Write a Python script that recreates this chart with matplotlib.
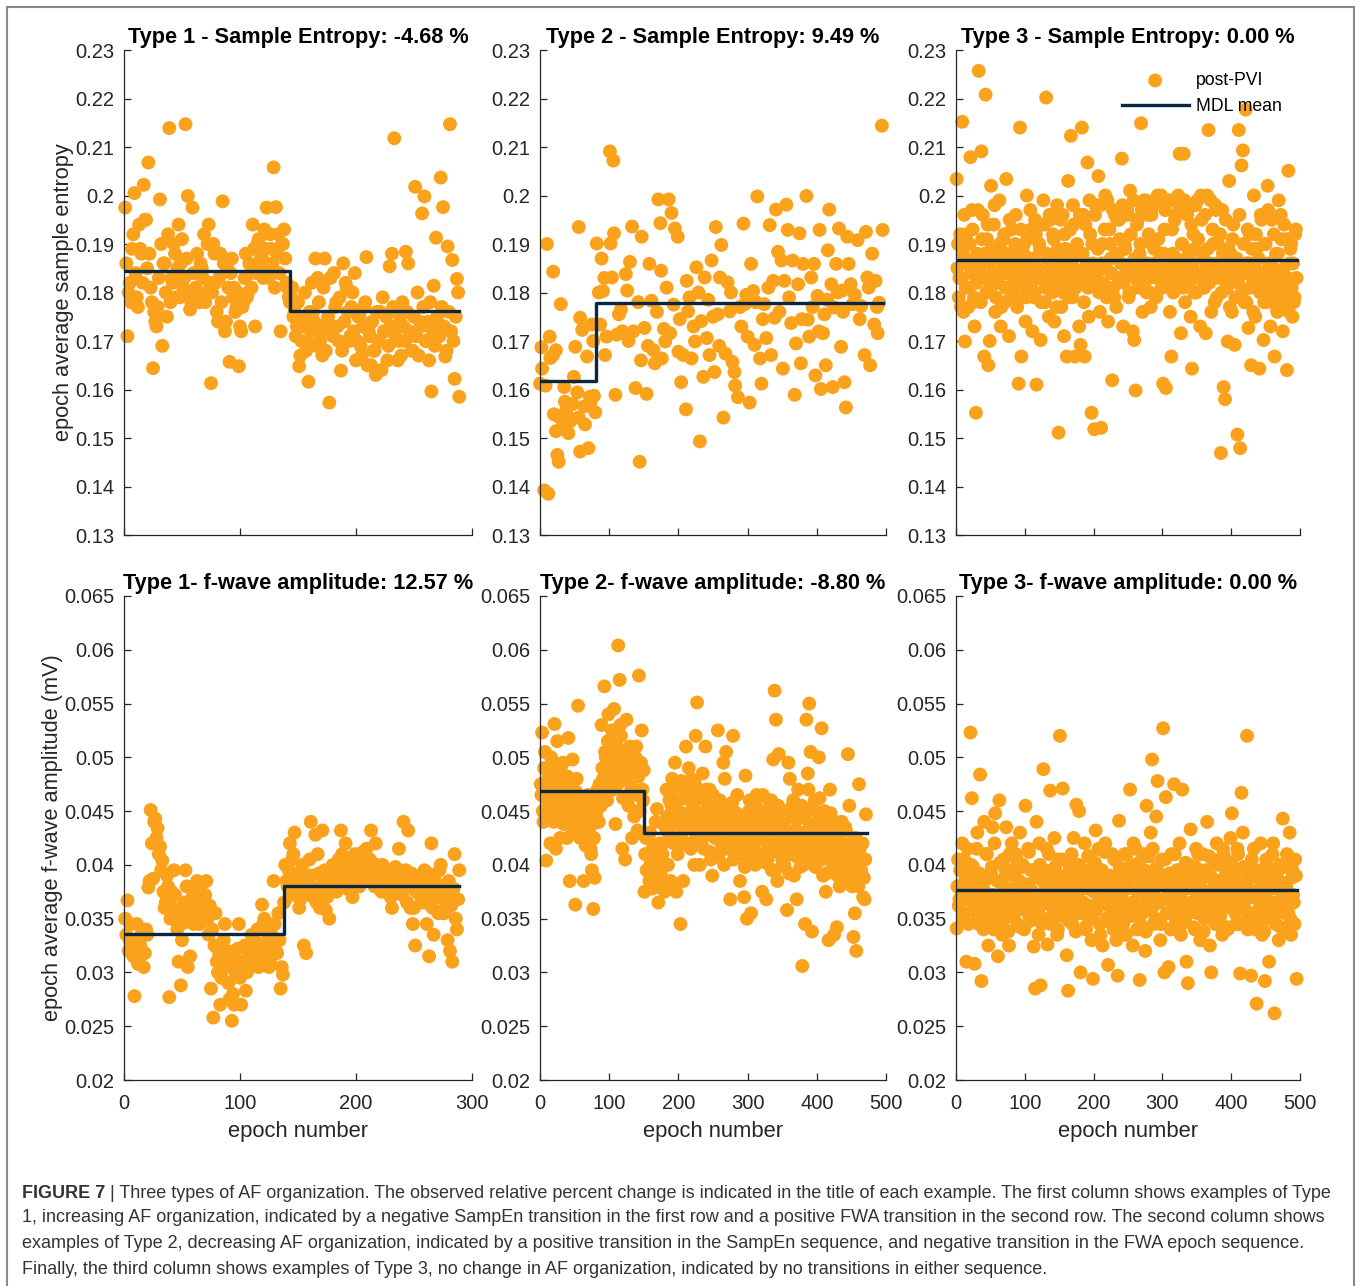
import matplotlib
matplotlib.use('Agg')
import matplotlib.pyplot as plt
from matplotlib.patches import Rectangle
from matplotlib.ticker import FuncFormatter

plt.rcParams['font.family'] = ['Liberation Sans', 'DejaVu Sans']

# ---------------- data ----------------
# Type 1 - sample entropy, odd epochs
sampen1_epoch = list(range(1, 290, 2))
sampen1_value = [
    0.1975, 0.171, 0.182, 0.189, 0.2005, 0.179, 0.194, 0.188, 0.2022, 0.195,
    0.2068, 0.181, 0.1644, 0.174, 0.177, 0.1992, 0.169, 0.186, 0.175, 0.2139,
    0.183, 0.190, 0.179, 0.194, 0.186, 0.181, 0.2147, 0.1999, 0.1765, 0.1975,
    0.180, 0.188, 0.178, 0.185, 0.192, 0.180, 0.194, 0.1613, 0.190, 0.182,
    0.174, 0.188, 0.1988, 0.172, 0.185, 0.1657, 0.187, 0.181, 0.177, 0.1648,
    0.172, 0.178, 0.188, 0.180, 0.184, 0.194, 0.173, 0.190, 0.186, 0.187,
    0.193, 0.1975, 0.183, 0.189, 0.2058, 0.1976, 0.192, 0.172, 0.190, 0.187,
    0.181, 0.178,
    0.181, 0.176, 0.173, 0.1648, 0.170, 0.175, 0.168, 0.1616, 0.172, 0.176,
    0.187, 0.183, 0.170, 0.167, 0.187, 0.174, 0.1573, 0.172, 0.184, 0.178,
    0.170, 0.1639, 0.186, 0.182, 0.176, 0.171, 0.180, 0.184, 0.170, 0.175,
    0.167, 0.177, 0.1873, 0.172, 0.165, 0.168, 0.163, 0.170, 0.176, 0.179,
    0.172, 0.166, 0.1854, 0.188, 0.2118, 0.176, 0.170, 0.167, 0.173, 0.1884,
    0.186, 0.171, 0.168, 0.2018, 0.180, 0.174, 0.1963, 0.1998, 0.170, 0.166,
    0.1596, 0.1814, 0.1913, 0.173, 0.2037, 0.1976, 0.1668, 0.1895, 0.2147, 0.1867,
    0.1622, 0.1828, 0.1585,
]
# Type 1 - sample entropy, even epochs (dense core of the cloud)
sampen1_epoch_b = list(range(2, 289, 2))
sampen1_value_b = [
    0.186, 0.180, 0.178, 0.192, 0.184, 0.177, 0.189, 0.182, 0.195, 0.185,
    0.188, 0.178, 0.176, 0.173, 0.183, 0.190, 0.186, 0.180, 0.192, 0.178,
    0.182, 0.188, 0.185, 0.179, 0.191, 0.183, 0.187, 0.180, 0.178, 0.184,
    0.181, 0.179, 0.186, 0.183, 0.178, 0.190, 0.182, 0.180, 0.188, 0.176,
    0.183, 0.178, 0.186, 0.174, 0.181, 0.184, 0.179, 0.176, 0.180, 0.173,
    0.177, 0.183, 0.179, 0.186, 0.181, 0.189, 0.184, 0.191, 0.187, 0.183,
    0.189, 0.185, 0.192, 0.186, 0.181, 0.188, 0.184, 0.190, 0.193, 0.182,
    0.179,
    0.179, 0.175, 0.171, 0.178, 0.167, 0.173, 0.180, 0.170, 0.176, 0.182,
    0.174, 0.169, 0.178, 0.172, 0.181, 0.168, 0.175, 0.183, 0.171, 0.177,
    0.173, 0.179, 0.168, 0.174, 0.181, 0.170, 0.177, 0.172, 0.166, 0.175,
    0.169, 0.173, 0.178, 0.165, 0.171, 0.174, 0.168, 0.176, 0.170, 0.164,
    0.172, 0.175, 0.169, 0.173, 0.177, 0.171, 0.166, 0.174, 0.178, 0.170,
    0.176, 0.172, 0.168, 0.175, 0.171, 0.167, 0.173, 0.177, 0.170, 0.174,
    0.178, 0.172, 0.169, 0.175, 0.171, 0.177, 0.173, 0.168, 0.176, 0.172,
    0.170, 0.175, 0.180,
]
sampen1_mdl_x = [1, 143, 289]
sampen1_mdl_y = [0.1845, 0.1761, 0.1761]

# Type 2 - sample entropy
sampen2_epoch = [
    0, 2, 3, 6, 8, 10, 12, 14, 15, 19, 19, 20, 23, 23, 25, 26, 27, 30, 33, 35,
    36, 38, 41, 42, 44, 47, 49, 51, 54, 56, 56, 58, 58, 61, 64, 65, 68, 70, 72, 73,
    75, 77, 78, 80,
    82, 85, 87, 89, 91, 94, 96, 101, 102, 104, 106, 107, 109, 111, 114, 119, 124, 126, 130, 133,
    135, 138, 144, 146, 147, 151, 154, 158, 161, 164, 166, 171, 174, 175, 176, 181, 183, 186, 188, 190,
    195, 199, 200, 204, 207, 211, 212, 214, 219, 224, 226, 231, 233, 236, 238, 241, 245, 248, 252, 254,
    257, 260, 262, 265, 268, 271, 274, 278, 281, 282, 286, 291, 294, 296, 300, 303, 305, 308, 310, 314,
    318, 320, 324, 327, 332, 334, 337, 339, 341, 344, 349, 351, 353, 356, 358, 363, 365, 368, 370, 373,
    375, 377, 380, 385, 387, 389, 392, 396, 398, 401, 404, 406, 409, 411, 413, 416, 418, 421, 423, 425,
    428, 432, 435, 437, 440, 442, 444, 446, 449, 452, 459, 464, 469, 471, 473, 477, 480, 483, 485, 488,
    490, 494, 495,
    93, 117, 128, 142, 156, 169, 179, 193, 202, 216, 222, 229, 243, 250, 259, 276, 289, 298, 312, 322,
    330, 346, 360, 378, 394, 403, 415, 430, 438, 455, 462, 475, 487,
]
sampen2_value = [
    0.1612, 0.1687, 0.1643, 0.1392, 0.1608, 0.1900, 0.1385, 0.1709, 0.1665, 0.1843,
    0.1671, 0.1549, 0.1681, 0.1514, 0.1465, 0.1545, 0.1451, 0.1776, 0.1530, 0.1605,
    0.1575, 0.1559, 0.1510, 0.1542, 0.1535, 0.1570, 0.1626, 0.1688, 0.1594, 0.1935,
    0.1542, 0.1748, 0.1472, 0.1723, 0.1565, 0.1528, 0.1668, 0.1479, 0.1585, 0.1573,
    0.1734, 0.1700, 0.1587, 0.1553,
    0.1901, 0.1800, 0.1734, 0.1870, 0.1803, 0.1671, 0.1709, 0.2091, 0.1901, 0.1831,
    0.2072, 0.1922, 0.1589, 0.1713, 0.1755, 0.1720, 0.1838, 0.1804, 0.1863, 0.1936,
    0.1720, 0.1603, 0.1451, 0.1660, 0.1915, 0.1727, 0.1591, 0.1859, 0.1783, 0.1681,
    0.1654, 0.1992, 0.1943, 0.1845, 0.1664, 0.1699, 0.1810, 0.1992, 0.1716, 0.1964,
    0.1932, 0.1915, 0.1678, 0.1615, 0.1671, 0.1559, 0.1824, 0.1761, 0.1664, 0.1699,
    0.1852, 0.1493, 0.1741, 0.1626, 0.1831, 0.1706, 0.1671, 0.1866, 0.1636, 0.1935,
    0.1755, 0.1831, 0.1898, 0.1542, 0.1674, 0.1821, 0.1761, 0.1657, 0.1636, 0.1608,
    0.1584, 0.1730, 0.1942, 0.1776, 0.1709, 0.1573, 0.1859, 0.1803, 0.1692, 0.1998,
    0.1664, 0.1612, 0.1776, 0.1706, 0.1939, 0.1671, 0.1824, 0.1748, 0.1971, 0.1884,
    0.1866, 0.1643, 0.1824, 0.1981, 0.1929, 0.1737, 0.1866, 0.1589, 0.1695, 0.1817,
    0.1922, 0.1654, 0.1859, 0.1999, 0.1744, 0.1709, 0.1831, 0.1859, 0.1629, 0.1793,
    0.1929, 0.1601, 0.1716, 0.1755, 0.1650, 0.1887, 0.1971, 0.1817, 0.1605, 0.1769,
    0.1859, 0.1932, 0.1688, 0.1804, 0.1615, 0.1563, 0.1915, 0.1859, 0.1817, 0.1776,
    0.1908, 0.1772, 0.1671, 0.1925, 0.1831, 0.1650, 0.1880, 0.1734, 0.1824, 0.1716,
    0.1779, 0.2144, 0.1929,
    0.1830, 0.1765, 0.1700, 0.1780, 0.1690, 0.1760, 0.1725, 0.1775, 0.1745, 0.1790,
    0.1730, 0.1800, 0.1785, 0.1750, 0.1690, 0.1800, 0.1770, 0.1795, 0.1780, 0.1745,
    0.1810, 0.1760, 0.1790, 0.1745, 0.1770, 0.1720, 0.1785, 0.1800, 0.1760, 0.1795,
    0.1745, 0.1810, 0.1770,
]
sampen2_epoch_b = []
sampen2_value_b = []
sampen2_mdl_x = [1, 81, 495]
sampen2_mdl_y = [0.1617, 0.1779, 0.1779]

# Type 3 - sample entropy, odd epochs
sampen3_epoch = list(range(1, 496, 2))
sampen3_value = [
    0.2034, 0.190, 0.183, 0.177, 0.2152, 0.176, 0.1699, 0.192, 0.186, 0.181,
    0.2079, 0.197, 0.178, 0.173, 0.1552, 0.188, 0.2257, 0.184, 0.2091, 0.196,
    0.1668, 0.2208, 0.191, 0.1650, 0.170, 0.202, 0.183, 0.194, 0.176, 0.189,
    0.182, 0.199, 0.173, 0.186, 0.191, 0.178, 0.2034, 0.184, 0.171, 0.188,
    0.193, 0.180, 0.185, 0.196, 0.177, 0.1612, 0.214, 0.1668, 0.183, 0.190,
    0.174, 0.200, 0.187, 0.182, 0.193, 0.172, 0.179, 0.195, 0.1610, 0.185,
    0.190, 0.1702, 0.183, 0.199, 0.178, 0.2202, 0.186, 0.175, 0.195, 0.181,
    0.192, 0.174, 0.188, 0.198, 0.1511, 0.183, 0.177, 0.196, 0.171, 0.189,
    0.1668, 0.203, 0.185, 0.2123, 0.179, 0.194, 0.1668, 0.188, 0.182, 0.173,
    0.1692, 0.2140, 0.196, 0.1668, 0.183, 0.2068, 0.175, 0.192, 0.1552, 0.186,
    0.1518, 0.198, 0.182, 0.204, 0.176, 0.1521, 0.190, 0.185, 0.200, 0.179,
    0.174, 0.193, 0.187, 0.1619, 0.181, 0.196, 0.177, 0.188, 0.195, 0.183,
    0.2076, 0.173, 0.190, 0.184, 0.197, 0.179, 0.201, 0.186, 0.172, 0.1702,
    0.1598, 0.194, 0.182, 0.188, 0.2149, 0.176, 0.199, 0.185, 0.180, 0.196,
    0.183, 0.177, 0.190, 0.198, 0.186, 0.179, 0.200, 0.184, 0.188, 0.181,
    0.1612, 0.193, 0.1603, 0.183, 0.199, 0.176, 0.1668, 0.188, 0.185, 0.196,
    0.182, 0.200, 0.2086, 0.1716, 0.190, 0.2086, 0.178, 0.186, 0.197, 0.183,
    0.175, 0.1643, 0.192, 0.189, 0.180, 0.199, 0.184, 0.173, 0.195, 0.187,
    0.181, 0.1716, 0.200, 0.2135, 0.186, 0.176, 0.193, 0.183, 0.198, 0.179,
    0.190, 0.185, 0.1469, 0.197, 0.1605, 0.158, 0.182, 0.1699, 0.203, 0.188,
    0.176, 0.194, 0.1692, 0.184, 0.1507, 0.2135, 0.1479, 0.2062, 0.2093, 0.178,
    0.2177, 0.186, 0.1727, 0.192, 0.165, 0.183, 0.200, 0.175, 0.189, 0.181,
    0.1643, 0.196, 0.184, 0.1702, 0.190, 0.178, 0.202, 0.186, 0.173, 0.195,
    0.182, 0.1668, 0.188, 0.176, 0.199, 0.184, 0.191, 0.172, 0.194, 0.179,
    0.164, 0.2051, 0.186, 0.190, 0.175, 0.178, 0.192, 0.183,
]
# Type 3 - sample entropy, even epochs
sampen3_epoch_b = list(range(2, 495, 2))
sampen3_value_b = [
    0.185, 0.179, 0.192, 0.183, 0.188, 0.196, 0.181, 0.186, 0.177, 0.190,
    0.184, 0.193, 0.179, 0.187, 0.182, 0.197, 0.185, 0.178, 0.191, 0.183,
    0.188, 0.180, 0.194, 0.186, 0.181, 0.189, 0.184, 0.198, 0.179, 0.187,
    0.183, 0.190, 0.177, 0.185, 0.192, 0.181, 0.188, 0.184, 0.195, 0.180,
    0.186, 0.182, 0.190, 0.178, 0.187, 0.184, 0.193, 0.181, 0.188, 0.185,
    0.179, 0.191, 0.184, 0.197, 0.182, 0.187, 0.180, 0.192, 0.185, 0.183,
    0.189, 0.178, 0.186, 0.194, 0.181, 0.188, 0.183, 0.196, 0.185, 0.180,
    0.191, 0.184, 0.177, 0.189, 0.182, 0.195, 0.186, 0.180, 0.192, 0.184,
    0.187, 0.179, 0.193, 0.182, 0.198, 0.185, 0.181, 0.190, 0.184, 0.196,
    0.183, 0.188, 0.178, 0.194, 0.186, 0.181, 0.199, 0.185, 0.190, 0.182,
    0.196, 0.184, 0.189, 0.180, 0.198, 0.186, 0.182, 0.193, 0.185, 0.199,
    0.181, 0.190, 0.184, 0.197, 0.179, 0.188, 0.195, 0.183, 0.191, 0.186,
    0.198, 0.182, 0.189, 0.185, 0.196, 0.180, 0.192, 0.184, 0.199, 0.187,
    0.183, 0.195, 0.181, 0.190, 0.197, 0.185, 0.182, 0.199, 0.186, 0.192,
    0.180, 0.196, 0.184, 0.189, 0.198, 0.183, 0.191, 0.185, 0.200, 0.181,
    0.188, 0.197, 0.184, 0.182, 0.199, 0.186, 0.193, 0.180, 0.195, 0.187,
    0.183, 0.198, 0.185, 0.190, 0.181, 0.199, 0.184, 0.196, 0.188, 0.182,
    0.194, 0.186, 0.180, 0.198, 0.184, 0.191, 0.183, 0.200, 0.187, 0.181,
    0.196, 0.185, 0.189, 0.182, 0.199, 0.184, 0.190, 0.178, 0.197, 0.186,
    0.183, 0.192, 0.180, 0.188, 0.184, 0.195, 0.181, 0.189, 0.177, 0.186,
    0.191, 0.183, 0.179, 0.187, 0.182, 0.196, 0.185, 0.180, 0.190, 0.184,
    0.178, 0.193, 0.186, 0.181, 0.189, 0.176, 0.185, 0.192, 0.182, 0.187,
    0.180, 0.195, 0.184, 0.178, 0.190, 0.183, 0.197, 0.181, 0.186, 0.179,
    0.192, 0.184, 0.177, 0.188, 0.182, 0.196, 0.180, 0.185, 0.178, 0.191,
    0.183, 0.176, 0.189, 0.181, 0.186, 0.179, 0.193,
]
sampen3_mdl_x = [1, 495]
sampen3_mdl_y = [0.1866, 0.1866]

# Type 1 - f-wave amplitude (mV), odd epochs
fwa1_epoch = list(range(1, 290, 2))
fwa1_value = [
    0.0350, 0.0367, 0.0330, 0.0325, 0.0278, 0.0345, 0.0310, 0.0335, 0.0305, 0.0340,
    0.0379, 0.0451, 0.0387, 0.0443, 0.0434, 0.0417, 0.0404, 0.0360, 0.0390, 0.0277,
    0.0375, 0.0395, 0.0355, 0.0310, 0.0288, 0.0346, 0.0395, 0.0305, 0.0315, 0.0370,
    0.0355, 0.0385, 0.0345, 0.0370, 0.0360, 0.0385, 0.0335, 0.0285, 0.0258, 0.0355,
    0.0300, 0.0270, 0.0310, 0.0345, 0.0320, 0.0275, 0.0255, 0.0270, 0.0310, 0.0345,
    0.0270, 0.0300, 0.0283, 0.0325, 0.0305, 0.0330, 0.0320, 0.0340, 0.0310, 0.0363,
    0.0350, 0.0325, 0.0305, 0.0335, 0.0385, 0.0320, 0.0355, 0.0285, 0.0298,
    0.0400, 0.0380, 0.0420, 0.0405, 0.0430, 0.0375, 0.0360, 0.0395, 0.0325, 0.0318,
    0.0390, 0.0440, 0.0370, 0.0428, 0.0410, 0.0360, 0.0432, 0.0395, 0.0370, 0.0350,
    0.0385, 0.0395, 0.0375, 0.0405, 0.0432, 0.0390, 0.0420, 0.0385, 0.0400, 0.0370,
    0.0410, 0.0390, 0.0380, 0.0405, 0.0395, 0.0415, 0.0385, 0.0432, 0.0400, 0.0420,
    0.0390, 0.0380, 0.0400, 0.0385, 0.0375, 0.0395, 0.0360, 0.0380, 0.0390, 0.0415,
    0.0375, 0.0440, 0.0395, 0.0432, 0.0360, 0.0345, 0.0325, 0.0375, 0.0385, 0.0365,
    0.0395, 0.0345, 0.0315, 0.0420, 0.0335, 0.0370, 0.0355, 0.0400, 0.0380, 0.0360,
    0.0330, 0.0320, 0.0310, 0.0410, 0.0340, 0.0395,
]
# Type 1 - f-wave amplitude, even epochs
fwa1_epoch_b = list(range(2, 289, 2))
fwa1_value_b = [
    0.0335, 0.0320, 0.0345, 0.0315, 0.0330, 0.0308, 0.0325, 0.0340, 0.0318, 0.0335,
    0.0385, 0.0420, 0.0440, 0.0425, 0.0410, 0.0395, 0.0375, 0.0365, 0.0380, 0.0350,
    0.0360, 0.0372, 0.0340, 0.0355, 0.0330, 0.0365, 0.0380, 0.0350, 0.0360, 0.0345,
    0.0375, 0.0365, 0.0380, 0.0355, 0.0372, 0.0350, 0.0362, 0.0340, 0.0325, 0.0310,
    0.0318, 0.0295, 0.0330, 0.0305, 0.0290, 0.0312, 0.0280, 0.0300, 0.0322, 0.0295,
    0.0310, 0.0325, 0.0300, 0.0318, 0.0335, 0.0312, 0.0328, 0.0305, 0.0320, 0.0345,
    0.0315, 0.0335, 0.0310, 0.0328, 0.0345, 0.0318, 0.0330, 0.0305,
    0.0365, 0.0385, 0.0395, 0.0372, 0.0410, 0.0390, 0.0380, 0.0368, 0.0400, 0.0385,
    0.0375, 0.0405, 0.0390, 0.0378, 0.0365, 0.0392, 0.0380, 0.0370, 0.0358, 0.0388,
    0.0375, 0.0400, 0.0385, 0.0395, 0.0380, 0.0410, 0.0392, 0.0378, 0.0402, 0.0388,
    0.0395, 0.0382, 0.0405, 0.0390, 0.0412, 0.0398, 0.0385, 0.0405, 0.0392, 0.0380,
    0.0400, 0.0388, 0.0375, 0.0395, 0.0382, 0.0392, 0.0370, 0.0385, 0.0398, 0.0378,
    0.0390, 0.0372, 0.0385, 0.0365, 0.0380, 0.0392, 0.0360, 0.0375, 0.0388, 0.0370,
    0.0382, 0.0365, 0.0392, 0.0375, 0.0360, 0.0385, 0.0370, 0.0395, 0.0378, 0.0355,
    0.0372, 0.0385, 0.0362, 0.0378, 0.0350, 0.0368,
]
fwa1_mdl_x = [1, 138, 289]
fwa1_mdl_y = [0.03357, 0.03806, 0.03806]

# Type 2 - f-wave amplitude (mV), odd epochs
fwa2_epoch = list(range(1, 472, 2))
fwa2_value = [
    0.0475, 0.0523, 0.0440, 0.0505, 0.0404, 0.0460, 0.0485, 0.0420, 0.0490, 0.0450,
    0.0531, 0.0415, 0.0515, 0.0470, 0.0425, 0.0460, 0.0495, 0.0445, 0.0480, 0.0425,
    0.0518, 0.0385, 0.0455, 0.0498, 0.0440, 0.0363, 0.0480, 0.0548, 0.0450, 0.0430,
    0.0455, 0.0385, 0.0440, 0.0420, 0.0465, 0.0430, 0.0415, 0.0395, 0.0359, 0.0388,
    0.0448, 0.0470, 0.0440, 0.0455, 0.0530, 0.0480, 0.0566, 0.0500, 0.0460, 0.0540,
    0.0510, 0.0490, 0.0470, 0.0545, 0.0438, 0.0500, 0.0604, 0.0572, 0.0520, 0.0415,
    0.0485, 0.0405, 0.0535, 0.0490, 0.0465, 0.0505, 0.0425, 0.0470, 0.0450, 0.0510,
    0.0432, 0.0576, 0.0490, 0.0525, 0.0460,
    0.0375, 0.0425, 0.0410, 0.0395, 0.0430, 0.0400, 0.0415, 0.0385, 0.0440, 0.0452,
    0.0365, 0.0420, 0.0390, 0.0410, 0.0380, 0.0435, 0.0470, 0.0400, 0.0460, 0.0385,
    0.0480, 0.0420, 0.0495, 0.0375, 0.0410, 0.0445, 0.0345, 0.0430, 0.0385, 0.0470,
    0.0510, 0.0440, 0.0490, 0.0420, 0.0480, 0.0455, 0.0400, 0.0520, 0.0551, 0.0465,
    0.0400, 0.0435, 0.0485, 0.0415, 0.0510, 0.0450, 0.0430, 0.0470, 0.0405, 0.0390,
    0.0445, 0.0425, 0.0460, 0.0525, 0.0410, 0.0450, 0.0435, 0.0495, 0.0480, 0.0505,
    0.0420, 0.0450, 0.0368, 0.0430, 0.0520, 0.0445, 0.0410, 0.0465, 0.0425, 0.0385,
    0.0440, 0.0415, 0.0370, 0.0483, 0.0350, 0.0430, 0.0460, 0.0355, 0.0420, 0.0445,
    0.0400, 0.0465, 0.0435, 0.0410, 0.0450, 0.0375, 0.0425, 0.0440, 0.0368, 0.0405,
    0.0460, 0.0420, 0.0395, 0.0498, 0.0562, 0.0535, 0.0385, 0.0503, 0.0430, 0.0415,
    0.0440, 0.0400, 0.0425, 0.0358, 0.0495, 0.0480, 0.0410, 0.0455, 0.0390, 0.0430,
    0.0368, 0.0470, 0.0415, 0.0445, 0.0306, 0.0400, 0.0345, 0.0535, 0.0485, 0.0550,
    0.0505, 0.0338, 0.0405, 0.0460, 0.0425, 0.0440, 0.0500, 0.0410, 0.0527, 0.0390,
    0.0450, 0.0375, 0.0430, 0.0330, 0.0470, 0.0415, 0.0395, 0.0335, 0.0440, 0.0342,
    0.0400, 0.0380, 0.0420, 0.0410, 0.0385, 0.0435, 0.0395, 0.0503, 0.0455, 0.0410,
    0.0380, 0.0333, 0.0355, 0.0320, 0.0400, 0.0475, 0.0390, 0.0405, 0.0370, 0.0368,
    0.0447,
]
# Type 2 - f-wave amplitude, even epochs
fwa2_epoch_b = list(range(2, 471, 2))
fwa2_value_b = [
    0.0465, 0.0450, 0.0490, 0.0472, 0.0445, 0.0480, 0.0458, 0.0500, 0.0468, 0.0440,
    0.0485, 0.0455, 0.0475, 0.0445, 0.0490, 0.0462, 0.0438, 0.0470, 0.0450, 0.0482,
    0.0460, 0.0445, 0.0472, 0.0432, 0.0455, 0.0468, 0.0440, 0.0458, 0.0425, 0.0448,
    0.0435, 0.0462, 0.0418, 0.0445, 0.0430, 0.0452, 0.0410, 0.0438, 0.0425, 0.0445,
    0.0462, 0.0440, 0.0475, 0.0455, 0.0490, 0.0468, 0.0505, 0.0480, 0.0515, 0.0492,
    0.0470, 0.0525, 0.0500, 0.0485, 0.0512, 0.0475, 0.0498, 0.0530, 0.0488, 0.0462,
    0.0505, 0.0480, 0.0495, 0.0455, 0.0510, 0.0472, 0.0488, 0.0445, 0.0500, 0.0465,
    0.0482, 0.0450, 0.0495, 0.0470, 0.0488,
    0.0410, 0.0395, 0.0425, 0.0385, 0.0402, 0.0378, 0.0418, 0.0392, 0.0405, 0.0380,
    0.0395, 0.0412, 0.0388, 0.0420, 0.0375, 0.0400, 0.0445, 0.0430, 0.0465, 0.0455,
    0.0440, 0.0472, 0.0450, 0.0425, 0.0460, 0.0438, 0.0478, 0.0448, 0.0420, 0.0462,
    0.0435, 0.0470, 0.0445, 0.0415, 0.0458, 0.0432, 0.0475, 0.0450, 0.0425, 0.0440,
    0.0462, 0.0418, 0.0448, 0.0435, 0.0470, 0.0428, 0.0455, 0.0412, 0.0442, 0.0465,
    0.0430, 0.0452, 0.0408, 0.0438, 0.0460, 0.0420, 0.0445, 0.0400, 0.0432, 0.0455,
    0.0415, 0.0440, 0.0425, 0.0458, 0.0405, 0.0435, 0.0448, 0.0418, 0.0430, 0.0410,
    0.0445, 0.0422, 0.0398, 0.0438, 0.0415, 0.0450, 0.0428, 0.0405, 0.0440, 0.0420,
    0.0455, 0.0432, 0.0410, 0.0445, 0.0425, 0.0465, 0.0438, 0.0402, 0.0448, 0.0418,
    0.0430, 0.0460, 0.0412, 0.0442, 0.0395, 0.0435, 0.0455, 0.0420, 0.0448, 0.0405,
    0.0438, 0.0415, 0.0450, 0.0428, 0.0392, 0.0445, 0.0418, 0.0460, 0.0432, 0.0408,
    0.0442, 0.0420, 0.0398, 0.0455, 0.0430, 0.0412, 0.0448, 0.0425, 0.0470, 0.0438,
    0.0415, 0.0452, 0.0428, 0.0398, 0.0440, 0.0418, 0.0462, 0.0435, 0.0405, 0.0445,
    0.0422, 0.0392, 0.0438, 0.0410, 0.0448, 0.0425, 0.0400, 0.0435, 0.0412, 0.0390,
    0.0428, 0.0405, 0.0440, 0.0418, 0.0395, 0.0432, 0.0408, 0.0385, 0.0420, 0.0398,
    0.0412, 0.0390, 0.0425, 0.0402, 0.0380, 0.0415, 0.0395, 0.0420, 0.0388, 0.0405,
]
fwa2_mdl_x = [1, 151, 472]
fwa2_mdl_y = [0.0469, 0.0430, 0.0430]

# Type 3 - f-wave amplitude (mV), odd epochs
fwa3_epoch = list(range(1, 496, 2))
fwa3_value = [
    0.0341, 0.0405, 0.0368, 0.0395, 0.0420, 0.0350, 0.0385, 0.0310, 0.0415, 0.0375,
    0.0523, 0.0462, 0.0398, 0.0308, 0.0365, 0.0430, 0.0345, 0.0484, 0.0292, 0.0382,
    0.0440, 0.0355, 0.0410, 0.0325, 0.0372, 0.0392, 0.0435, 0.0340, 0.0448, 0.0365,
    0.0315, 0.0460, 0.0385, 0.0335, 0.0405, 0.0350, 0.0435, 0.0378, 0.0325, 0.0395,
    0.0420, 0.0360, 0.0390, 0.0410, 0.0345, 0.0375, 0.0430, 0.0368, 0.0400, 0.0340,
    0.0455, 0.0380, 0.0415, 0.0350, 0.0395, 0.0360, 0.0324, 0.0285, 0.0440, 0.0370,
    0.0420, 0.0288, 0.0345, 0.0489, 0.0395, 0.0365, 0.0326, 0.0410, 0.0469, 0.0375,
    0.0350, 0.0425, 0.0390, 0.0335, 0.0405, 0.0520, 0.0362, 0.0471, 0.0380, 0.0355,
    0.0316, 0.0283, 0.0400, 0.0370, 0.0345, 0.0425, 0.0390, 0.0456, 0.0355, 0.0450,
    0.0300, 0.0385, 0.0365, 0.0420, 0.0340, 0.0395, 0.0350, 0.0408, 0.0330, 0.0294,
    0.0380, 0.0432, 0.0360, 0.0415, 0.0345, 0.0395, 0.0325, 0.0372, 0.0420, 0.0350,
    0.0307, 0.0385, 0.0360, 0.0410, 0.0340, 0.0375, 0.0330, 0.0297, 0.0441, 0.0365,
    0.0390, 0.0345, 0.0410, 0.0335, 0.0380, 0.0355, 0.0470, 0.0400, 0.0325, 0.0365,
    0.0415, 0.0340, 0.0375, 0.0293, 0.0390, 0.0355, 0.0410, 0.0320, 0.0455, 0.0380,
    0.0360, 0.0430, 0.0498, 0.0345, 0.0395, 0.0445, 0.0478, 0.0365, 0.0330, 0.0405,
    0.0527, 0.0300, 0.0463, 0.0385, 0.0305, 0.0355, 0.0410, 0.0370, 0.0475, 0.0345,
    0.0395, 0.0360, 0.0420, 0.0335, 0.0470, 0.0380, 0.0350, 0.0310, 0.0290, 0.0400,
    0.0433, 0.0365, 0.0385, 0.0340, 0.0415, 0.0355, 0.0395, 0.0330, 0.0375, 0.0410,
    0.0350, 0.0390, 0.0440, 0.0360, 0.0325, 0.0300, 0.0405, 0.0370, 0.0345, 0.0420,
    0.0385, 0.0355, 0.0400, 0.0335, 0.0410, 0.0365, 0.0390, 0.0340, 0.0380, 0.0425,
    0.0448, 0.0360, 0.0395, 0.0345, 0.0415, 0.0375, 0.0299, 0.0467, 0.0430, 0.0365,
    0.0385, 0.0520, 0.0350, 0.0400, 0.0297, 0.0370, 0.0415, 0.0340, 0.0271, 0.0390,
    0.0360, 0.0420, 0.0335, 0.0380, 0.0292, 0.0405, 0.0350, 0.0310, 0.0395, 0.0365,
    0.0420, 0.0262, 0.0345, 0.0385, 0.0330, 0.0400, 0.0360, 0.0443, 0.0375, 0.0340,
    0.0410, 0.0355, 0.0430, 0.0335, 0.0395, 0.0365, 0.0405, 0.0294,
]
# Type 3 - f-wave amplitude, even epochs
fwa3_epoch_b = list(range(2, 495, 2))
fwa3_value_b = [
    0.0380, 0.0362, 0.0395, 0.0372, 0.0355, 0.0405, 0.0368, 0.0390, 0.0345, 0.0378,
    0.0400, 0.0358, 0.0385, 0.0370, 0.0415, 0.0350, 0.0392, 0.0365, 0.0380, 0.0340,
    0.0375, 0.0410, 0.0360, 0.0388, 0.0348, 0.0398, 0.0372, 0.0420, 0.0355, 0.0385,
    0.0368, 0.0402, 0.0345, 0.0380, 0.0362, 0.0395, 0.0375, 0.0338, 0.0410, 0.0365,
    0.0390, 0.0352, 0.0378, 0.0405, 0.0360, 0.0385, 0.0342, 0.0372, 0.0398, 0.0358,
    0.0382, 0.0365, 0.0412, 0.0348, 0.0376, 0.0395, 0.0355, 0.0388, 0.0370, 0.0335,
    0.0400, 0.0362, 0.0385, 0.0350, 0.0378, 0.0415, 0.0368, 0.0392, 0.0345, 0.0380,
    0.0358, 0.0398, 0.0372, 0.0340, 0.0388, 0.0365, 0.0405, 0.0352, 0.0382, 0.0368,
    0.0392, 0.0348, 0.0376, 0.0410, 0.0360, 0.0385, 0.0338, 0.0372, 0.0400, 0.0355,
    0.0380, 0.0365, 0.0395, 0.0342, 0.0378, 0.0408, 0.0362, 0.0388, 0.0350, 0.0375,
    0.0402, 0.0358, 0.0385, 0.0370, 0.0335, 0.0395, 0.0365, 0.0412, 0.0348, 0.0380,
    0.0362, 0.0390, 0.0375, 0.0345, 0.0405, 0.0368, 0.0382, 0.0355, 0.0398, 0.0372,
    0.0340, 0.0385, 0.0360, 0.0410, 0.0378, 0.0352, 0.0392, 0.0365, 0.0420, 0.0388,
    0.0355, 0.0375, 0.0402, 0.0345, 0.0380, 0.0362, 0.0395, 0.0338, 0.0370, 0.0408,
    0.0385, 0.0358, 0.0415, 0.0372, 0.0350, 0.0398, 0.0365, 0.0382, 0.0345, 0.0390,
    0.0368, 0.0405, 0.0355, 0.0378, 0.0392, 0.0340, 0.0385, 0.0362, 0.0410, 0.0375,
    0.0350, 0.0395, 0.0370, 0.0345, 0.0388, 0.0362, 0.0402, 0.0378, 0.0355, 0.0392,
    0.0365, 0.0380, 0.0342, 0.0398, 0.0372, 0.0410, 0.0358, 0.0385, 0.0368, 0.0338,
    0.0395, 0.0375, 0.0355, 0.0408, 0.0362, 0.0388, 0.0348, 0.0380, 0.0400, 0.0365,
    0.0385, 0.0352, 0.0375, 0.0415, 0.0368, 0.0395, 0.0342, 0.0380, 0.0360, 0.0402,
    0.0372, 0.0390, 0.0355, 0.0378, 0.0410, 0.0345, 0.0385, 0.0365, 0.0398, 0.0358,
    0.0380, 0.0340, 0.0392, 0.0370, 0.0405, 0.0355, 0.0375, 0.0388, 0.0348, 0.0368,
    0.0395, 0.0360, 0.0382, 0.0338, 0.0372, 0.0400, 0.0355, 0.0385, 0.0365, 0.0410,
    0.0348, 0.0378, 0.0392, 0.0360, 0.0385, 0.0342, 0.0370, 0.0398, 0.0355, 0.0380,
    0.0365, 0.0402, 0.0350, 0.0388, 0.0372, 0.0345, 0.0390,
]
fwa3_mdl_x = [1, 495]
fwa3_mdl_y = [0.03765, 0.03765]

titles = [
    'Type 1 - Sample Entropy: -4.68 %',
    'Type 2 - Sample Entropy: 9.49 %',
    'Type 3 - Sample Entropy: 0.00 %',
    'Type 1- f-wave amplitude: 12.57 %',
    'Type 2- f-wave amplitude: -8.80 %',
    'Type 3- f-wave amplitude: 0.00 %',
]
sampen_yticks = [0.13, 0.14, 0.15, 0.16, 0.17, 0.18, 0.19, 0.20, 0.21, 0.22, 0.23]
fwa_yticks = [0.02, 0.025, 0.03, 0.035, 0.04, 0.045, 0.05, 0.055, 0.06, 0.065]
xticks_short = [0, 100, 200, 300]
xticks_long = [0, 100, 200, 300, 400, 500]

caption_lines = [
    '| Three types of AF organization. The observed relative percent change is indicated in the title of each example. The first column shows examples of Type',
    '1, increasing AF organization, indicated by a negative SampEn transition in the first row and a positive FWA transition in the second row. The second column shows',
    'examples of Type 2, decreasing AF organization, indicated by a positive transition in the SampEn sequence, and negative transition in the FWA epoch sequence.',
    'Finally, the third column shows examples of Type 3, no change in AF organization, indicated by no transitions in either sequence.',
]

# ---------------- drawing ----------------
W, H = 1358, 1286
fig = plt.figure(figsize=(W / 100, H / 100), dpi=100)

dot_color = '#FAA21B'
line_color = '#0B2640'
ink = '#262626'

col_left = [124, 540, 956]
col_width = [348, 346, 344]
row_top = [50, 596]
row_height = [485, 484]

panels = [
    (sampen1_epoch, sampen1_value, sampen1_epoch_b, sampen1_value_b, sampen1_mdl_x, sampen1_mdl_y, 300, sampen_yticks, xticks_short),
    (sampen2_epoch, sampen2_value, sampen2_epoch_b, sampen2_value_b, sampen2_mdl_x, sampen2_mdl_y, 500, sampen_yticks, xticks_long),
    (sampen3_epoch, sampen3_value, sampen3_epoch_b, sampen3_value_b, sampen3_mdl_x, sampen3_mdl_y, 500, sampen_yticks, xticks_long),
    (fwa1_epoch, fwa1_value, fwa1_epoch_b, fwa1_value_b, fwa1_mdl_x, fwa1_mdl_y, 300, fwa_yticks, xticks_short),
    (fwa2_epoch, fwa2_value, fwa2_epoch_b, fwa2_value_b, fwa2_mdl_x, fwa2_mdl_y, 500, fwa_yticks, xticks_long),
    (fwa3_epoch, fwa3_value, fwa3_epoch_b, fwa3_value_b, fwa3_mdl_x, fwa3_mdl_y, 500, fwa_yticks, xticks_long),
]

fmt = FuncFormatter(lambda v, p: f'{v:g}')

for i, (ex, ey, bx, by, mx, my, xmax, yt, xt) in enumerate(panels):
    r, c = divmod(i, 3)
    left = col_left[c] / W
    bottom = 1 - (row_top[r] + row_height[r]) / H
    ax = fig.add_axes([left, bottom, col_width[c] / W, row_height[r] / H])

    if bx:
        ax.scatter(bx, by, s=100, color=dot_color, edgecolors='none',
                   clip_on=False, zorder=2)
    ax.scatter(ex, ey, s=100, color=dot_color, edgecolors='none', clip_on=False,
               zorder=2, label='post-PVI')
    ax.step(mx, my, where='post', color=line_color, lw=2.4, zorder=3, label='MDL mean')

    ax.set_xlim(0, xmax)
    ax.set_ylim(yt[0], yt[-1])
    ax.set_xticks(xt)
    ax.set_yticks(yt)
    ax.yaxis.set_major_formatter(fmt)
    for s in ['top', 'right']:
        ax.spines[s].set_visible(False)
    for s in ['left', 'bottom']:
        ax.spines[s].set_color(ink)
        ax.spines[s].set_linewidth(0.9)
    ax.tick_params(direction='in', length=5, width=0.9, colors=ink, labelsize=14.5)
    ax.tick_params(axis='y', pad=7)
    ax.tick_params(axis='x', pad=10)
    ax.set_title(titles[i], fontsize=15.7, fontweight='bold', pad=5)

    if r == 0:
        ax.tick_params(axis='x', labelbottom=False)
    else:
        ax.set_xlabel('epoch number', fontsize=15.8, color=ink, labelpad=6)
    if i == 0:
        ax.set_ylabel('epoch average sample entropy', fontsize=15.7, color=ink, labelpad=0.5)
    if i == 3:
        ax.set_ylabel('epoch average f-wave amplitude (mV)', fontsize=15.7, color=ink, labelpad=0.5)
    if i == 2:
        ax.legend(loc='upper right', bbox_to_anchor=(0.967, 0.969), frameon=False,
                  fontsize=12.7, handlelength=3.8, labelspacing=0.53,
                  handletextpad=0.4, borderaxespad=0)

# outer frame of the figure panel
fig.add_artist(Rectangle((7 / W, -0.01), (1354 - 7) / W, 1 - 7 / H + 0.01,
                         transform=fig.transFigure, fill=False,
                         edgecolor='#8a8a8a', lw=1.5, clip_on=False))

# caption
cap_color = '#333333'
cap_size = 13
cap_y = [1193, 1218, 1244, 1270]
cap_family = ['Liberation Sans Narrow', 'Liberation Sans', 'DejaVu Sans']
renderer = fig.canvas.get_renderer()
head = fig.text(22 / W, 1 - cap_y[0] / H, 'FIGURE 7 ', fontsize=cap_size,
                fontweight='bold', color=cap_color, va='center', family=cap_family)
hb = head.get_window_extent(renderer)
body = []
for k, line in enumerate(caption_lines):
    x0 = hb.x1 / W if k == 0 else 22 / W
    t = fig.text(x0, 1 - cap_y[k] / H, line, fontsize=cap_size, color=cap_color,
                 va='center', family=cap_family)
    body.append(t)

# fit the first caption line to its width in the reference
right = body[0].get_window_extent(renderer).x1
scale = (1332 - 22) / (right - 22)
if abs(scale - 1) > 0.01:
    new = cap_size * scale
    head.set_fontsize(new)
    for t in body:
        t.set_fontsize(new)
    hb = head.get_window_extent(renderer)
    body[0].set_x(hb.x1 / W)

fig.savefig('out.png', dpi=100)
